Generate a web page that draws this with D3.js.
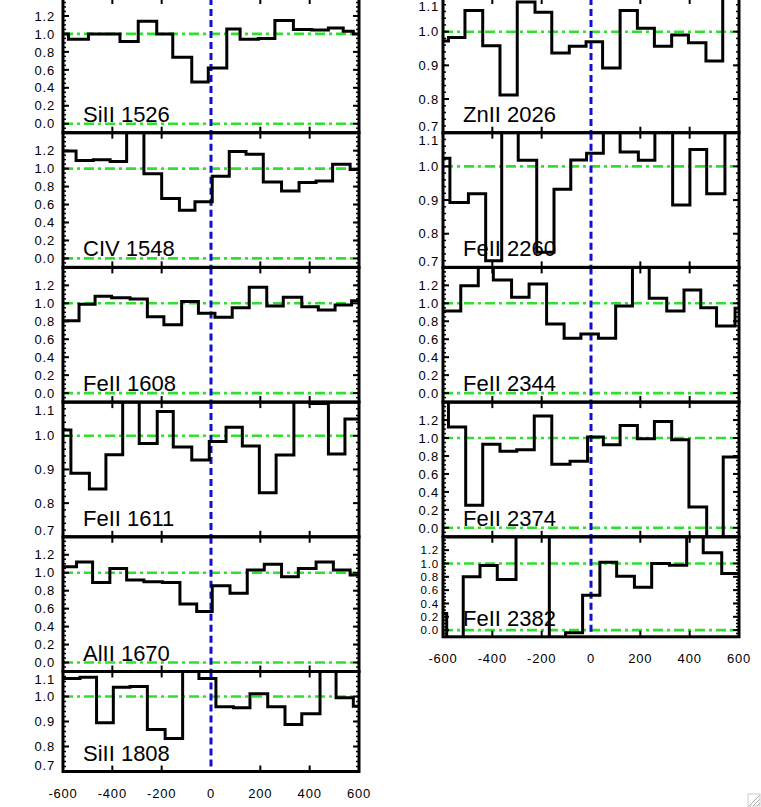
<!DOCTYPE html>
<html><head><meta charset="utf-8">
<script src="https://cdn.jsdelivr.net/npm/d3@7"></script>
<style>html,body{margin:0;padding:0;background:#fff;} svg{display:block;}</style>
</head><body><svg id="c" width="761" height="807"></svg>
<script>
// ---- tick labels ----
const xTickLabels = [-600, -400, -200, 0, 200, 400, 600];
const xMajorTicks = [-400, -200, 200, 400];
const fluxTickLabels = [0.0, 0.2, 0.4, 0.6, 0.8, 1.0, 1.2];
const normTickLabels = [0.7, 0.8, 0.9, 1.0, 1.1];

// ---- series (bin edges in km/s, normalised flux per bin) ----
const siII1526V = [-600,-578,-497,-432,-369,-295,-220,-155,-78,-11,64,118,192,259,334,408,476,536,577,600];
const siII1526F = [1.0,0.94,1.0,1.0,0.915,1.14,1.0,0.74,0.465,0.62,1.055,0.94,0.95,1.15,1.05,1.045,1.065,1.03,1.0];

const cIV1548V = [-600,-547,-477,-409,-342,-272,-200,-128,-65,5,74,142,212,286,357,426,493,564,600];
const cIV1548F = [1.196,1.09,1.10,1.08,1.6,0.944,0.667,0.537,0.63,0.915,1.19,1.16,0.85,0.75,0.845,0.863,1.05,0.99];

const feII1608V = [-600,-535,-470,-403,-328,-258,-191,-119,-51,16,86,155,226,293,368,435,503,570,600];
const feII1608F = [0.807,0.99,1.08,1.063,1.048,0.85,0.76,1.02,0.89,0.845,0.95,1.18,0.97,1.067,0.963,0.926,0.98,1.03];

const feII1611V = [-600,-568,-493,-426,-358,-291,-218,-153,-78,-7,61,127,196,264,336,401,476,543,600];
const feII1611F = [1.017,0.889,0.842,0.944,1.15,0.977,1.072,0.967,0.928,0.983,1.025,0.970,0.831,0.943,1.15,1.096,0.946,1.05];

const alII1670V = [-600,-545,-480,-410,-342,-272,-197,-126,-58,5,77,147,216,286,354,426,496,564,600];
const alII1670F = [1.067,1.12,0.89,1.048,0.92,0.90,0.89,0.652,0.567,0.856,0.77,1.03,1.093,0.956,1.048,1.12,1.03,0.974];

const siII1808V = [-600,-531,-464,-396,-328,-258,-186,-115,-49,20,91,158,230,300,368,442,507,577,600];
const siII1808F = [1.072,1.077,0.895,1.037,1.04,0.868,0.832,1.15,1.072,0.959,0.955,1.011,0.959,0.888,0.931,1.15,0.995,0.961];

const znII2026V = [-600,-578,-511,-439,-369,-299,-227,-159,-88,-20,47,118,188,257,327,395,466,534,600];
const znII2026F = [0.972,0.983,1.063,0.958,0.812,1.088,1.058,0.937,0.957,0.97,0.892,1.063,1.01,0.957,0.99,0.967,0.913,1.15];

const feII2260V = [-600,-572,-497,-427,-362,-295,-220,-150,-82,-18,50,118,192,259,331,401,469,543,600];
const feII2260F = [1.024,0.893,0.919,0.72,1.15,1.018,0.745,0.932,1.019,1.039,1.15,1.043,1.018,1.15,0.885,1.05,0.919,1.15];

const feII2344V = [-600,-528,-457,-396,-322,-251,-180,-109,-41,30,100,168,236,307,377,445,509,584,600];
const feII2344F = [0.915,1.196,1.5,1.26,1.067,1.215,0.77,0.611,0.659,0.611,0.97,1.5,1.056,0.915,1.148,0.952,0.748,0.944];

const feII2374V = [-600,-578,-508,-439,-369,-301,-230,-159,-85,-14,50,118,188,257,327,397,469,536,600];
const feII2374F = [1.5,1.122,0.252,0.93,0.852,0.87,1.244,0.707,0.74,1.01,0.926,1.14,0.993,1.185,0.98,0.233,-0.2,0.79];

const feII2382V = [-600,-585,-518,-450,-380,-304,-169,-103,-34,36,104,176,246,318,388,455,530,600];
const feII2382F = [0.25,-0.2,0.8,0.97,0.76,1.6,-0.2,-0.04,0.525,1.02,0.81,0.645,1.0,0.975,1.6,1.16,0.85];

const panels = [
  {label:"SiII 1526", col:0, row:0, kind:"flux", v:siII1526V, f:siII1526F},
  {label:"CIV 1548",  col:0, row:1, kind:"flux", v:cIV1548V,  f:cIV1548F},
  {label:"FeII 1608", col:0, row:2, kind:"flux", v:feII1608V, f:feII1608F},
  {label:"FeII 1611", col:0, row:3, kind:"norm", v:feII1611V, f:feII1611F},
  {label:"AlII 1670", col:0, row:4, kind:"flux", v:alII1670V, f:alII1670F},
  {label:"SiII 1808", col:0, row:5, kind:"norm", v:siII1808V, f:siII1808F, last:true},
  {label:"ZnII 2026", col:1, row:0, kind:"norm", v:znII2026V, f:znII2026F},
  {label:"FeII 2260", col:1, row:1, kind:"norm", v:feII2260V, f:feII2260F},
  {label:"FeII 2344", col:1, row:2, kind:"flux", v:feII2344V, f:feII2344F},
  {label:"FeII 2374", col:1, row:3, kind:"flux", v:feII2374V, f:feII2374F},
  {label:"FeII 2382", col:1, row:4, kind:"flux", v:feII2382V, f:feII2382F, last:true}
];

// ---- layout ----
const colLeft = [63, 443];
const labelEnd = [55, 439];
const plotW = 296;
const top0 = -2, pH = 134.7, lastH = 100;
const FONT = "'Liberation Sans', Arial, Helvetica, sans-serif";
const GREEN = "#2fe02f", BLUE = "#1010d0";

const svg = d3.select("#c");
svg.append("rect").attr("width",761).attr("height",807).attr("fill","#fff");

panels.forEach((p, i) => {
  const left = colLeft[p.col];
  const top = top0 + p.row * pH;
  const bottom = top + (p.last ? lastH : pH);
  const x = d3.scaleLinear().domain([-600, 600]).range([left, left + plotW]);
  const dom = p.kind === "flux" ? [-0.1, 1.4] : [0.7, 1.1];
  const y = d3.scaleLinear().domain(dom).range([bottom, top]);
  const g = svg.append("g");

  const clipId = "clip" + i;
  svg.append("clipPath").attr("id", clipId)
    .append("rect").attr("x", left).attr("y", top).attr("width", plotW).attr("height", bottom - top);

  // green reference lines
  const refs = p.kind === "flux" ? [0, 1] : [1];
  refs.forEach(r => {
    g.append("line").attr("x1", x(-600)).attr("x2", x(600)).attr("y1", y(r)).attr("y2", y(r))
      .attr("stroke", GREEN).attr("stroke-width", 2.6).attr("stroke-dasharray", "10,4,3,4");
  });

  // blue zero-velocity line
  g.append("line").attr("x1", x(0)).attr("x2", x(0)).attr("y1", top).attr("y2", bottom)
    .attr("stroke", BLUE).attr("stroke-width", 3).attr("stroke-dasharray", "7,4");

  // data histogram
  const pts = p.f.map((f, k) => [p.v[k], f]);
  pts.push([p.v[p.v.length - 1], p.f[p.f.length - 1]]);
  const line = d3.line().x(d => x(d[0])).y(d => y(d[1])).curve(d3.curveStepAfter);
  g.append("path").attr("d", line(pts)).attr("fill", "none").attr("stroke", "#000")
    .attr("stroke-width", 3).attr("stroke-linejoin", "miter").attr("clip-path", `url(#${clipId})`);

  // frame
  g.append("rect").attr("x", left).attr("y", top).attr("width", plotW).attr("height", bottom - top)
    .attr("fill", "none").attr("stroke", "#000").attr("stroke-width", 3);

  // x ticks top and bottom
  xMajorTicks.forEach(t => {
    g.append("line").attr("x1", x(t)).attr("x2", x(t)).attr("y1", bottom).attr("y2", bottom - 6)
      .attr("stroke", "#000").attr("stroke-width", 2);
    g.append("line").attr("x1", x(t)).attr("x2", x(t)).attr("y1", top).attr("y2", top + 6)
      .attr("stroke", "#000").attr("stroke-width", 2);
  });

  // y ticks
  const majors = p.kind === "flux" ? fluxTickLabels : normTickLabels;
  const minorStep = p.kind === "flux" ? 0.05 : 0.02;
  const minors = d3.range(Math.round(dom[0] / minorStep), Math.round(dom[1] / minorStep) + 1)
    .map(k => k * minorStep);
  minors.forEach(t => {
    [left, left + plotW].forEach((xe, s) => {
      g.append("line").attr("x1", xe).attr("x2", s === 0 ? xe + 3 : xe - 3)
        .attr("y1", y(t)).attr("y2", y(t)).attr("stroke", "#000").attr("stroke-width", 1.5);
    });
  });
  const tickFont = p.last && p.kind === "flux" ? 11.5 : 13;
  majors.forEach(t => {
    [left, left + plotW].forEach((xe, s) => {
      g.append("line").attr("x1", xe).attr("x2", s === 0 ? xe + 6 : xe - 6)
        .attr("y1", y(t)).attr("y2", y(t)).attr("stroke", "#000").attr("stroke-width", 2);
    });
    let yy = y(t);
    yy = Math.max(top + 8, Math.min(bottom - 6, yy));
    g.append("text").attr("x", labelEnd[p.col]).attr("y", yy).attr("dy", "0.36em")
      .attr("text-anchor", "end").attr("font-family", FONT).attr("font-size", tickFont)
      .attr("letter-spacing", 0.8).attr("fill", "#000").text(t.toFixed(1));
  });

  // panel label
  g.append("text").attr("x", left + 20).attr("y", bottom - 11)
    .attr("font-family", FONT).attr("font-size", 22).attr("fill", "#000").text(p.label);

  // x tick labels under last panel of each column
  if (p.last) {
    xTickLabels.forEach(t => {
      g.append("text").attr("x", x(t)).attr("y", bottom + 26).attr("text-anchor", "middle")
        .attr("font-family", FONT).attr("font-size", 13).attr("letter-spacing", 0.8)
        .attr("fill", "#000").text(t);
    });
  }
});

// window resize grip (bottom-right corner)
const grip = svg.append("g").attr("stroke", "#aaa").attr("stroke-width", 1);
[[749,806,760,795],[753,806,760,799],[757,806,760,803]].forEach(d =>
  grip.append("line").attr("x1", d[0]).attr("y1", d[1]).attr("x2", d[2]).attr("y2", d[3]));
svg.append("rect").attr("x",748).attr("y",794).attr("width",12).attr("height",12)
  .attr("fill","none").attr("stroke","#ccc").attr("stroke-width",1);
</script></body></html>
